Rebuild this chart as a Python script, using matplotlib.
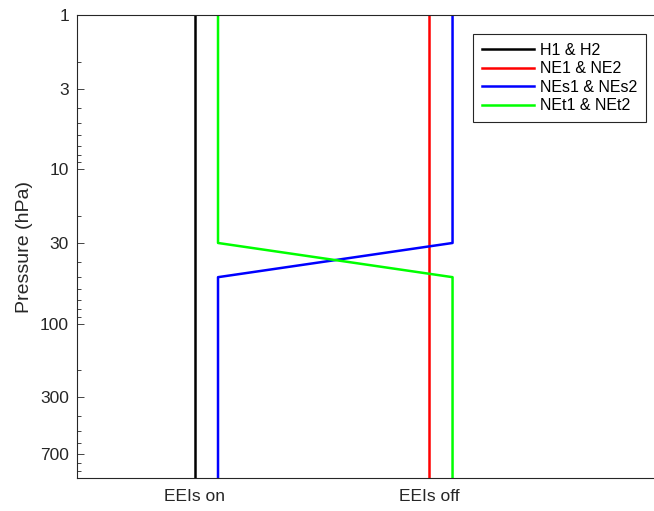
import matplotlib
matplotlib.use("Agg")
import matplotlib.pyplot as plt
import numpy as np

plt.rcParams['font.family'] = ['Liberation Sans', 'DejaVu Sans']

# experiment categories and pressure levels
categories = ['EEIs on', 'EEIs off']
x_pos = [1, 2]
p_top = 1
p_bottom = 1000

# each series: x values (category position + offset) and pressure levels
h_x = [1, 1]
h_p = [p_top, p_bottom]
ne_x = [2, 2]
ne_p = [p_top, p_bottom]
nes_x = [2.1, 2.1, 1.1, 1.1]
nes_p = [p_top, 30, 50, p_bottom]
net_x = [1.1, 1.1, 2.1, 2.1]
net_p = [p_top, 30, 50, p_bottom]

labels = ['H1 & H2', 'NE1 & NE2', 'NEs1 & NEs2', 'NEt1 & NEt2']
colors = ['black', '#ff0000', '#0000ff', '#00ff00']

yticks = [1, 3, 10, 30, 100, 300, 700]

fig = plt.figure(figsize=(6.54, 5.11), dpi=100)
ax = fig.add_axes([0.1182, 0.0652, 0.8965, 0.9048])

series = [(h_x, h_p), (ne_x, ne_p), (nes_x, nes_p), (net_x, net_p)]
for (xs, ps), lab, c in zip(series, labels, colors):
    ax.plot(xs, ps, color=c, lw=1.8, label=lab)

ax.set_yscale('log')
ax.set_ylim(p_bottom, p_top)
ax.set_xlim(0.5, 3)
ax.set_yticks(yticks)
ax.set_yticklabels([str(t) for t in yticks])
ax.set_xticks(x_pos)
ax.set_xticklabels(categories)
ax.set_ylabel('Pressure (hPa)', fontsize=14, color='0.15', labelpad=5)

ax.tick_params(axis='y', which='major', direction='in', length=5, width=0.6,
               labelsize=12.5, labelcolor='0.15', color='0.15', pad=6)
ax.tick_params(axis='y', which='minor', direction='in', length=3, width=0.6,
               color='0.15')
ax.tick_params(axis='x', length=0, labelsize=12.5, labelcolor='0.15', pad=8)

for s in ax.spines.values():
    s.set_color('0.15')
    s.set_linewidth(0.8)

leg = ax.legend(loc='upper right', bbox_to_anchor=(646 / 654, 1 - 34 / 511),
                bbox_transform=fig.transFigure, borderaxespad=0,
                fontsize=11.5, handlelength=3.3, handletextpad=0.35,
                labelspacing=0.22, borderpad=0.55, fancybox=False,
                framealpha=1, edgecolor='0.15')
leg.get_frame().set_linewidth(0.8)

fig.savefig('out.png', dpi=100)
